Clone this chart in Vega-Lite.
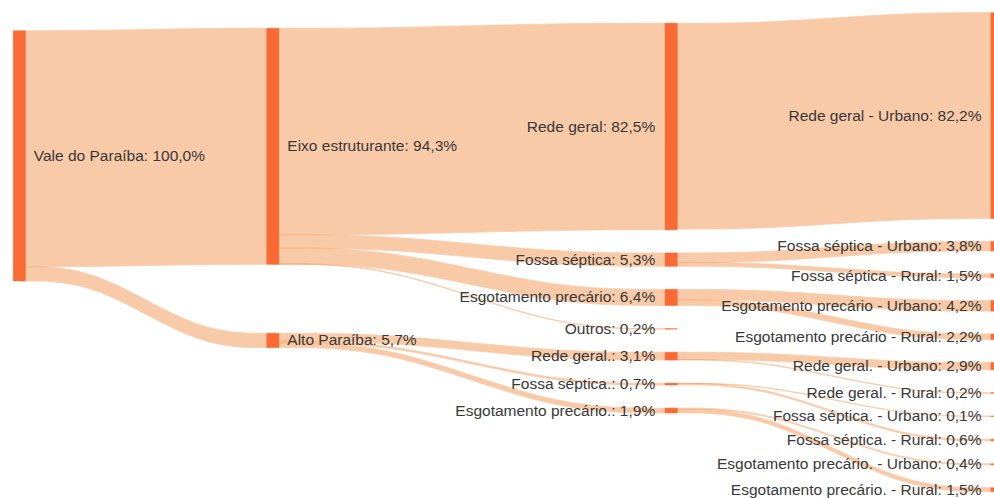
{
  "$schema": "https://vega.github.io/schema/vega-lite/v6.json",
  "width": 994,
  "height": 498,
  "padding": 0,
  "autosize": {"type": "none"},
  "background": "white",
  "config": {"view": {"stroke": null}},
  "datasets": {
    "links": [
      {"link": "L01", "stage": 0, "y0": 12.27, "y1": 106.57},
      {"link": "L01", "stage": 0.3, "y0": 12.27, "y1": 106.57},
      {"link": "L01", "stage": 0.7, "y0": 11.31, "y1": 105.61},
      {"link": "L01", "stage": 1, "y0": 11.31, "y1": 105.61},
      {"link": "L02", "stage": 0, "y0": 106.57, "y1": 112.27},
      {"link": "L02", "stage": 0.3, "y0": 106.57, "y1": 112.27},
      {"link": "L02", "stage": 0.7, "y0": 133.16, "y1": 138.86},
      {"link": "L02", "stage": 1, "y0": 133.16, "y1": 138.86},
      {"link": "L03", "stage": 1, "y0": 11.31, "y1": 93.81},
      {"link": "L03", "stage": 1.3, "y0": 11.31, "y1": 93.81},
      {"link": "L03", "stage": 1.7, "y0": 9.31, "y1": 91.81},
      {"link": "L03", "stage": 2, "y0": 9.31, "y1": 91.81},
      {"link": "L04", "stage": 1, "y0": 93.81, "y1": 99.11},
      {"link": "L04", "stage": 1.3, "y0": 93.81, "y1": 99.11},
      {"link": "L04", "stage": 1.7, "y0": 101.07, "y1": 106.37},
      {"link": "L04", "stage": 2, "y0": 101.07, "y1": 106.37},
      {"link": "L05", "stage": 1, "y0": 99.11, "y1": 105.51},
      {"link": "L05", "stage": 1.3, "y0": 99.11, "y1": 105.51},
      {"link": "L05", "stage": 1.7, "y0": 115.63, "y1": 122.03},
      {"link": "L05", "stage": 2, "y0": 115.63, "y1": 122.03},
      {"link": "L06", "stage": 1, "y0": 105.41, "y1": 105.61},
      {"link": "L06", "stage": 1.3, "y0": 105.41, "y1": 105.61},
      {"link": "L06", "stage": 1.7, "y0": 131.29, "y1": 131.49},
      {"link": "L06", "stage": 2, "y0": 131.29, "y1": 131.49},
      {"link": "L07", "stage": 1, "y0": 133.16, "y1": 136.26},
      {"link": "L07", "stage": 1.3, "y0": 133.16, "y1": 136.26},
      {"link": "L07", "stage": 1.7, "y0": 140.75, "y1": 143.85},
      {"link": "L07", "stage": 2, "y0": 140.75, "y1": 143.85},
      {"link": "L08", "stage": 1, "y0": 136.26, "y1": 136.96},
      {"link": "L08", "stage": 1.3, "y0": 136.26, "y1": 136.96},
      {"link": "L08", "stage": 1.7, "y0": 153.11, "y1": 153.81},
      {"link": "L08", "stage": 2, "y0": 153.11, "y1": 153.81},
      {"link": "L09", "stage": 1, "y0": 136.96, "y1": 138.86},
      {"link": "L09", "stage": 1.3, "y0": 136.96, "y1": 138.86},
      {"link": "L09", "stage": 1.7, "y0": 163.07, "y1": 164.97},
      {"link": "L09", "stage": 2, "y0": 163.07, "y1": 164.97},
      {"link": "L10", "stage": 2, "y0": 9.31, "y1": 91.51},
      {"link": "L10", "stage": 2.3, "y0": 9.31, "y1": 91.51},
      {"link": "L10", "stage": 2.7, "y0": 5.07, "y1": 87.27},
      {"link": "L10", "stage": 3, "y0": 5.07, "y1": 87.27},
      {"link": "L11", "stage": 2, "y0": 101.07, "y1": 104.87},
      {"link": "L11", "stage": 2.3, "y0": 101.07, "y1": 104.87},
      {"link": "L11", "stage": 2.7, "y0": 96.44, "y1": 100.24},
      {"link": "L11", "stage": 3, "y0": 96.44, "y1": 100.24},
      {"link": "L12", "stage": 2, "y0": 104.87, "y1": 106.37},
      {"link": "L12", "stage": 2.3, "y0": 104.87, "y1": 106.37},
      {"link": "L12", "stage": 2.7, "y0": 109.41, "y1": 110.91},
      {"link": "L12", "stage": 3, "y0": 109.41, "y1": 110.91},
      {"link": "L13", "stage": 2, "y0": 115.63, "y1": 119.83},
      {"link": "L13", "stage": 2.3, "y0": 115.63, "y1": 119.83},
      {"link": "L13", "stage": 2.7, "y0": 120.08, "y1": 124.28},
      {"link": "L13", "stage": 3, "y0": 120.08, "y1": 124.28},
      {"link": "L14", "stage": 2, "y0": 119.83, "y1": 122.03},
      {"link": "L14", "stage": 2.3, "y0": 119.83, "y1": 122.03},
      {"link": "L14", "stage": 2.7, "y0": 133.45, "y1": 135.65},
      {"link": "L14", "stage": 3, "y0": 133.45, "y1": 135.65},
      {"link": "L15", "stage": 2, "y0": 140.75, "y1": 143.65},
      {"link": "L15", "stage": 2.3, "y0": 140.75, "y1": 143.65},
      {"link": "L15", "stage": 2.7, "y0": 144.82, "y1": 147.72},
      {"link": "L15", "stage": 3, "y0": 144.82, "y1": 147.72},
      {"link": "L16", "stage": 2, "y0": 143.65, "y1": 143.85},
      {"link": "L16", "stage": 2.3, "y0": 143.65, "y1": 143.85},
      {"link": "L16", "stage": 2.7, "y0": 156.89, "y1": 157.09},
      {"link": "L16", "stage": 3, "y0": 156.89, "y1": 157.09},
      {"link": "L17", "stage": 2, "y0": 153.11, "y1": 153.21},
      {"link": "L17", "stage": 2.3, "y0": 153.11, "y1": 153.21},
      {"link": "L17", "stage": 2.7, "y0": 166.26, "y1": 166.36},
      {"link": "L17", "stage": 3, "y0": 166.26, "y1": 166.36},
      {"link": "L18", "stage": 2, "y0": 153.21, "y1": 153.81},
      {"link": "L18", "stage": 2.3, "y0": 153.21, "y1": 153.81},
      {"link": "L18", "stage": 2.7, "y0": 175.53, "y1": 176.13},
      {"link": "L18", "stage": 3, "y0": 175.53, "y1": 176.13},
      {"link": "L19", "stage": 2, "y0": 163.07, "y1": 163.47},
      {"link": "L19", "stage": 2.3, "y0": 163.07, "y1": 163.47},
      {"link": "L19", "stage": 2.7, "y0": 185.3, "y1": 185.7},
      {"link": "L19", "stage": 3, "y0": 185.3, "y1": 185.7},
      {"link": "L20", "stage": 2, "y0": 163.47, "y1": 164.97},
      {"link": "L20", "stage": 2.3, "y0": 163.47, "y1": 164.97},
      {"link": "L20", "stage": 2.7, "y0": 194.87, "y1": 196.37},
      {"link": "L20", "stage": 3, "y0": 194.87, "y1": 196.37}
    ],
    "nodes": [
      {"stage": 0, "label": "Vale do Paraíba: 100,0%", "top": 12.27, "bottom": 112.27, "mid": 62.27},
      {"stage": 1, "label": "Eixo estruturante: 94,3%", "top": 11.31, "bottom": 105.61, "mid": 58.46},
      {"stage": 1, "label": "Alto Paraíba: 5,7%", "top": 133.16, "bottom": 138.86, "mid": 136.01},
      {"stage": 2, "label": "Rede geral: 82,5%", "top": 9.31, "bottom": 91.81, "mid": 50.56},
      {"stage": 2, "label": "Fossa séptica: 5,3%", "top": 101.07, "bottom": 106.37, "mid": 103.72},
      {"stage": 2, "label": "Esgotamento precário: 6,4%", "top": 115.63, "bottom": 122.03, "mid": 118.83},
      {"stage": 2, "label": "Outros: 0,2%", "top": 131.29, "bottom": 131.49, "mid": 131.39},
      {"stage": 2, "label": "Rede geral.: 3,1%", "top": 140.75, "bottom": 143.85, "mid": 142.3},
      {"stage": 2, "label": "Fossa séptica.: 0,7%", "top": 153.11, "bottom": 153.81, "mid": 153.46},
      {"stage": 2, "label": "Esgotamento precário.: 1,9%", "top": 163.07, "bottom": 164.97, "mid": 164.02},
      {"stage": 3, "label": "Rede geral - Urbano: 82,2%", "top": 5.07, "bottom": 87.27, "mid": 46.17},
      {"stage": 3, "label": "Fossa séptica - Urbano: 3,8%", "top": 96.44, "bottom": 100.24, "mid": 98.34},
      {"stage": 3, "label": "Fossa séptica - Rural: 1,5%", "top": 109.41, "bottom": 110.91, "mid": 110.16},
      {"stage": 3, "label": "Esgotamento precário - Urbano: 4,2%", "top": 120.08, "bottom": 124.28, "mid": 122.18},
      {"stage": 3, "label": "Esgotamento precário - Rural: 2,2%", "top": 133.45, "bottom": 135.65, "mid": 134.55},
      {"stage": 3, "label": "Rede geral. - Urbano: 2,9%", "top": 144.82, "bottom": 147.72, "mid": 146.27},
      {"stage": 3, "label": "Rede geral. - Rural: 0,2%", "top": 156.89, "bottom": 157.09, "mid": 156.99},
      {"stage": 3, "label": "Fossa séptica. - Urbano: 0,1%", "top": 166.26, "bottom": 166.36, "mid": 166.31},
      {"stage": 3, "label": "Fossa séptica. - Rural: 0,6%", "top": 175.53, "bottom": 176.13, "mid": 175.83},
      {"stage": 3, "label": "Esgotamento precário. - Urbano: 0,4%", "top": 185.3, "bottom": 185.7, "mid": 185.5},
      {"stage": 3, "label": "Esgotamento precário. - Rural: 1,5%", "top": 194.87, "bottom": 196.37, "mid": 195.62}
    ]
  },
  "layer": [
    {
      "data": {"name": "links"},
      "mark": {"type": "area", "orient": "vertical", "interpolate": "basis", "color": "#f07d28", "opacity": 0.4, "stroke": "#f07d28", "strokeWidth": 0.8},
      "encoding": {
        "x": {"field": "stage", "type": "quantitative", "axis": null, "scale": {"domain": [0, 1, 2, 3], "range": [19.3, 272.8, 671.2, 997], "zero": false, "nice": false, "padding": 0}},
        "y": {"field": "y0", "type": "quantitative", "axis": null, "stack": null, "scale": {"domain": [0, 198.96], "reverse": true, "zero": false, "nice": false, "padding": 0}},
        "y2": {"field": "y1"},
        "detail": {"field": "link", "type": "nominal"}
      }
    },
    {
      "data": {"name": "nodes"},
      "mark": {"type": "bar", "width": 12.3, "color": "#f96a35", "stroke": "#f96a35", "strokeWidth": 0.4},
      "encoding": {
        "x": {"field": "stage", "type": "quantitative"},
        "y": {"field": "top", "type": "quantitative"},
        "y2": {"field": "bottom"}
      }
    },
    {
      "data": {"name": "nodes"},
      "transform": [{"filter": "datum.stage <= 1"}],
      "mark": {"type": "text", "align": "left", "baseline": "middle", "dx": 14.5, "font": "Liberation Sans", "fontSize": 15.5, "color": "#383838"},
      "encoding": {
        "x": {"field": "stage", "type": "quantitative"},
        "y": {"field": "mid", "type": "quantitative"},
        "text": {"field": "label"}
      }
    },
    {
      "data": {"name": "nodes"},
      "transform": [{"filter": "datum.stage == 2"}],
      "mark": {"type": "text", "align": "right", "baseline": "middle", "dx": -16, "font": "Liberation Sans", "fontSize": 15.5, "color": "#383838"},
      "encoding": {
        "x": {"field": "stage", "type": "quantitative"},
        "y": {"field": "mid", "type": "quantitative"},
        "text": {"field": "label"}
      }
    },
    {
      "data": {"name": "nodes"},
      "transform": [{"filter": "datum.stage == 3"}],
      "mark": {"type": "text", "align": "right", "baseline": "middle", "dx": -15.5, "font": "Liberation Sans", "fontSize": 15.5, "color": "#383838"},
      "encoding": {
        "x": {"field": "stage", "type": "quantitative"},
        "y": {"field": "mid", "type": "quantitative"},
        "text": {"field": "label"}
      }
    }
  ]
}
